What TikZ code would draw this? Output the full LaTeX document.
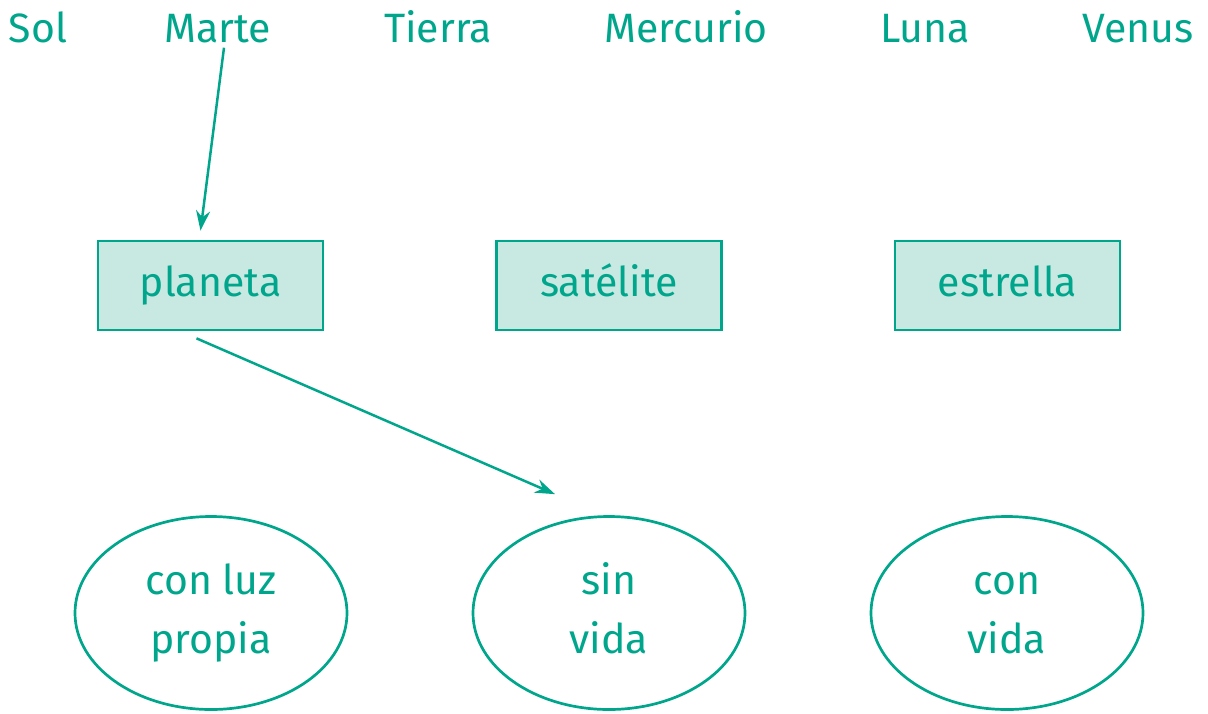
\documentclass[tikz,border=0pt]{standalone}
\usepackage{fontspec}
\setmainfont{Fira Sans}
\usetikzlibrary{shapes.geometric,arrows.meta,calc}
\definecolor{teal}{RGB}{0,166,140}
\definecolor{tealfill}{RGB}{200,232,226}
\begin{document}
\begin{tikzpicture}[x=1pt,y=-1pt,
  every node/.style={text=teal,font=\fontsize{41}{59}\selectfont},
  word/.style={inner sep=0pt,anchor=base},
  cat/.style={draw=teal,line width=2.7pt,fill=tealfill,minimum width=225pt,minimum height=89pt,inner sep=0pt,text height=32pt,text depth=10pt},
  prop/.style={draw=teal,line width=2.7pt,ellipse,minimum width=272pt,minimum height=193pt,inner sep=0pt,align=center,text height=89pt,text depth=8pt},
  arr/.style={draw=teal,line width=2.5pt,-{Stealth[length=20pt,width=14pt]}}]
\useasboundingbox (0,0) rectangle (1208,713);
\node[word] (sol) at (38,42) {Sol};
\node[word] (marte) at (218,42) {Marte};
\node[word] (tierra) at (438,42) {Tierra};
\node[word] (mercurio) at (686,42) {Mercurio};
\node[word] (luna) at (925,42) {Luna};
\node[word] (venus) at (1138,42) {Venus};
\node[cat] (planeta) at (210.5,285.5) {planeta};
\node[cat] (satelite) at (609,285.5) {satélite};
\node[cat] (estrella) at (1007.5,285.5) {estrella};
\node[prop] (luz) at (211,613) {con luz\\propia};
\node[prop] (sinvida) at (609,613) {sin\\vida};
\node[prop] (convida) at (1007,613) {con\\vida};
\draw[arr] ($(marte.south)+(6,5)$) -- ($(planeta.north)+(-10,-9)$);
\draw[arr] ($(planeta.south)+(-14,7)$) -- ($(sinvida.north)+(-54,-21)$);
\end{tikzpicture}
\end{document}
